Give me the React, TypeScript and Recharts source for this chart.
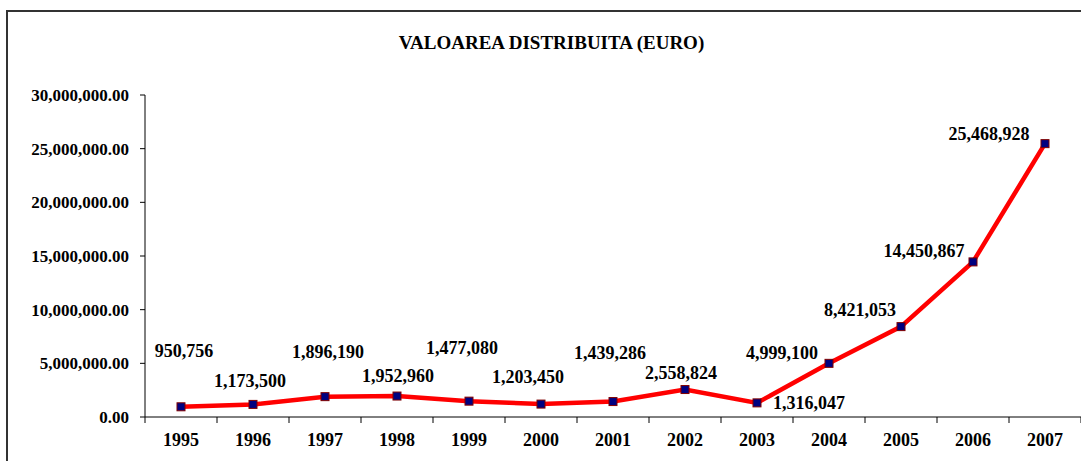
import React from "react";
import { LineChart, Line, XAxis, YAxis, LabelList } from "recharts";

const years = ["1995", "1996", "1997", "1998", "1999", "2000", "2001", "2002", "2003", "2004", "2005", "2006", "2007"];
const values = [950756, 1173500, 1896190, 1952960, 1477080, 1203450, 1439286, 2558824, 1316047, 4999100, 8421053, 14450867, 25468928];
const yTicks = [0, 5000000, 10000000, 15000000, 20000000, 25000000, 30000000];

// where each value label sits relative to its marker (Excel-style manual placement)
const labelOffsets = [
  [3, -56], [-3, -23], [3, -45], [1, -20], [-7, -53], [-13, -27], [-3, -49],
  [-4, -17], [52, 0], [-47, -10], [-41, -17], [-49, -11], [-56, -10],
];

const data = years.map((year, i) => ({ year, value: values[i] }));

const W = 1073;
const H = 449;
const Y_AXIS_W = 137;
const HALF_BAND = (W - Y_AXIS_W) / years.length / 2;
const FONT = "'Liberation Serif', 'Times New Roman', serif";

const fmtAxis = (v: number) =>
  v.toLocaleString("en-US", { minimumFractionDigits: 2, maximumFractionDigits: 2 });

const XTick = ({ x, y, payload, index }: any) => (
  <g>
    {index === 0 && <line x1={x - HALF_BAND} x2={x - HALF_BAND} y1={y} y2={y + 6} stroke="#000" />}
    <line x1={x + HALF_BAND} x2={x + HALF_BAND} y1={y} y2={y + 6} stroke="#000" />
    <text x={x} y={y + 29} textAnchor="middle" fontFamily={FONT} fontWeight="bold" fontSize={18} fill="#000">
      {payload.value}
    </text>
  </g>
);

const SquareDot = ({ cx, cy, index }: any) => (
  <rect key={`dot-${index}`} x={cx - 4} y={cy - 4} width={8} height={8} fill="#000080" stroke="#800000" strokeWidth={1} />
);

const ValueLabel = ({ x, y, value, index }: any) => {
  const [dx, dy] = labelOffsets[index];
  return (
    <text
      x={x + dx}
      y={y + dy}
      textAnchor="middle"
      dominantBaseline="central"
      fontFamily={FONT}
      fontWeight="bold"
      fontSize={18}
      fill="#000"
    >
      {Number(value).toLocaleString("en-US")}
    </text>
  );
};

export default function App() {
  return (
    <div
      style={{
        position: "fixed",
        left: 6,
        top: 10,
        width: W + 4,
        height: H + 4,
        borderLeft: "2px solid #333",
        borderTop: "2px solid #333",
        overflow: "hidden",
        background: "#fff",
      }}
    >
      <div
        style={{
          position: "absolute",
          left: 0,
          top: 20,
          width: 1087,
          textAlign: "center",
          fontFamily: FONT,
          fontWeight: "bold",
          fontSize: 19,
          lineHeight: "22px",
          color: "#000",
        }}
      >
        VALOAREA DISTRIBUITA (EURO)
      </div>
      <LineChart width={W} height={H} data={data} margin={{ top: 83, right: 0, bottom: 4, left: 0 }}>
        <XAxis
          dataKey="year"
          height={40}
          padding={{ left: HALF_BAND, right: HALF_BAND }}
          axisLine={{ stroke: "#000" }}
          tickLine={false}
          tickSize={0}
          tickMargin={0}
          interval={0}
          tick={<XTick />}
        />
        <YAxis
          width={Y_AXIS_W}
          domain={[0, 30000000]}
          ticks={yTicks}
          tickFormatter={fmtAxis}
          axisLine={{ stroke: "#000" }}
          tickLine={{ stroke: "#000" }}
          tickSize={5}
          tickMargin={11}
          tick={{ fontFamily: FONT, fontWeight: "bold", fontSize: 17, fill: "#000" }}
        />
        <Line
          type="linear"
          dataKey="value"
          stroke="#ff0000"
          strokeWidth={4.5}
          dot={<SquareDot />}
          activeDot={false}
          isAnimationActive={false}
        >
          <LabelList dataKey="value" content={<ValueLabel />} />
        </Line>
      </LineChart>
    </div>
  );
}
